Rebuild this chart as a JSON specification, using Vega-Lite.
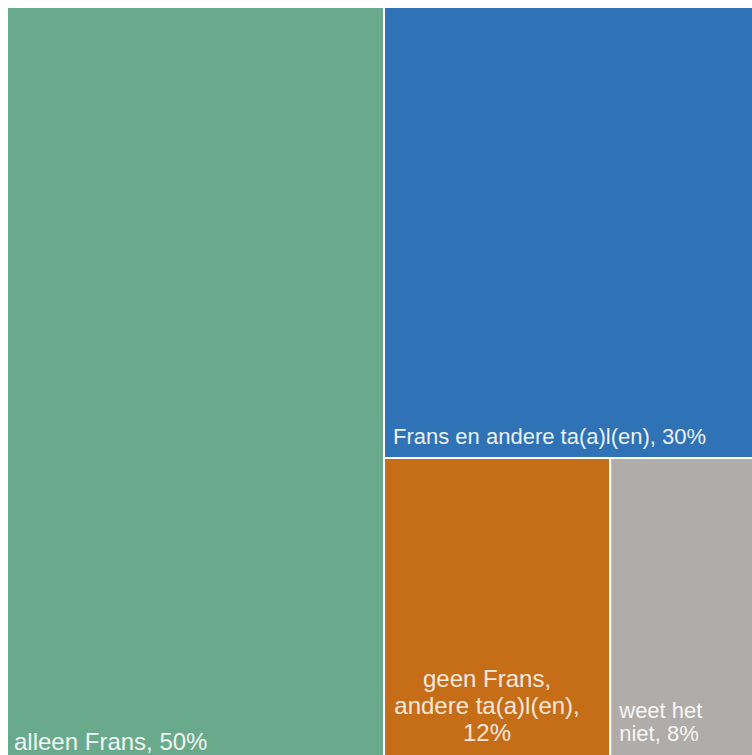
{
  "$schema": "https://vega.github.io/schema/vega-lite/v6.json",
  "width": 745,
  "height": 748,
  "padding": {"left": 7, "top": 7, "right": 0, "bottom": 0},
  "autosize": {"type": "none"},
  "background": "white",
  "config": {"view": {"stroke": null}},
  "data": {
    "values": [
      {"categorie": "alleen Frans", "label": "alleen Frans, 50%", "pct": 50, "x0": 0, "x1": 50, "y0": 0, "y1": 100},
      {"categorie": "Frans en andere ta(a)l(en)", "label": "Frans en andere ta(a)l(en), 30%", "pct": 30, "x0": 50, "x1": 100, "y0": 40, "y1": 100},
      {"categorie": "geen Frans, andere ta(a)l(en)", "label": ["geen Frans,", "andere ta(a)l(en),", "12%"], "pct": 12, "x0": 50, "x1": 80, "y0": 0, "y1": 40},
      {"categorie": "weet het niet", "label": ["weet het", "niet, 8%"], "pct": 8, "x0": 80, "x1": 100, "y0": 0, "y1": 40}
    ]
  },
  "encoding": {
    "x": {"field": "x0", "type": "quantitative", "scale": {"domain": [0, 98.8], "nice": false, "zero": false}, "axis": null},
    "y": {"field": "y0", "type": "quantitative", "scale": {"domain": [0.5, 100], "nice": false, "zero": false}, "axis": null}
  },
  "layer": [
    {
      "mark": {"type": "rect", "stroke": "white", "strokeWidth": 2, "clip": true},
      "encoding": {
        "x2": {"field": "x1"},
        "y2": {"field": "y1"},
        "color": {
          "field": "categorie",
          "type": "nominal",
          "scale": {
            "domain": ["alleen Frans", "Frans en andere ta(a)l(en)", "geen Frans, andere ta(a)l(en)", "weet het niet"],
            "range": ["#69a98c", "#2f72b6", "#c66d18", "#b0acaa"]
          },
          "legend": null
        },
        "tooltip": [{"field": "categorie"}, {"field": "pct", "title": "%"}]
      }
    },
    {
      "transform": [{"filter": "datum.categorie === 'alleen Frans'"}],
      "mark": {"type": "text", "align": "left", "baseline": "alphabetic", "dx": 7, "dy": -9, "font": "Liberation Sans", "fontSize": 24, "color": "white", "opacity": 0.9},
      "encoding": {"text": {"field": "label"}}
    },
    {
      "transform": [{"filter": "datum.categorie === 'Frans en andere ta(a)l(en)'"}],
      "mark": {"type": "text", "align": "left", "baseline": "alphabetic", "dx": 9, "dy": -14, "font": "Liberation Sans", "fontSize": 22, "color": "white", "opacity": 0.9},
      "encoding": {"text": {"field": "label"}}
    },
    {
      "transform": [{"filter": "datum.categorie === 'geen Frans, andere ta(a)l(en)'"}],
      "mark": {"type": "text", "align": "center", "baseline": "alphabetic", "dx": 103, "dy": -72, "lineHeight": 27, "font": "Liberation Sans", "fontSize": 24, "color": "white", "opacity": 0.85},
      "encoding": {"text": {"field": "label"}}
    },
    {
      "transform": [{"filter": "datum.categorie === 'weet het niet'"}],
      "mark": {"type": "text", "align": "left", "baseline": "alphabetic", "dx": 9, "dy": -41, "lineHeight": 23, "font": "Liberation Sans", "fontSize": 22, "color": "white", "opacity": 0.9},
      "encoding": {"text": {"field": "label"}}
    }
  ]
}
